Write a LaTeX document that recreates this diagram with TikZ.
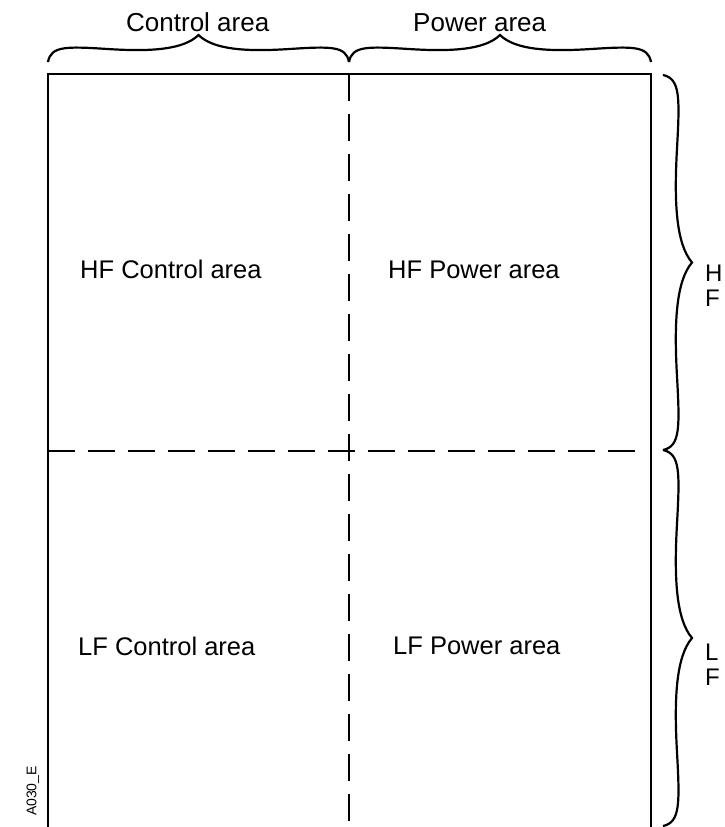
\documentclass[tikz,border=0pt]{standalone}
\usepackage{fontspec}
\setmainfont{Liberation Sans}
\usetikzlibrary{positioning}

\tikzset{
    hbrace/.pic={
        \draw[bracel] (0,0) .. controls (0.01,-0.6) and (0.06,-0.58) .. (0.2,-0.48)
            .. controls (0.34,-0.38) and (0.45,-0.45) .. (0.5,-1)
            .. controls (0.55,-0.45) and (0.66,-0.38) .. (0.8,-0.48)
            .. controls (0.94,-0.58) and (0.99,-0.6) .. (1,0);
    },
    vbrace/.pic={
        \draw[bracel] (0,0) .. controls (0.6,0.01) and (0.58,0.06) .. (0.48,0.2)
            .. controls (0.38,0.34) and (0.45,0.45) .. (1,0.5)
            .. controls (0.45,0.55) and (0.38,0.66) .. (0.48,0.8)
            .. controls (0.58,0.94) and (0.6,0.99) .. (0,1);
    },
}

\begin{document}
\begin{tikzpicture}[
    x=1pt, y=-1pt,
    frame/.style={line width=2.9pt, line join=miter},
    divider/.style={line width=2.8pt, dash pattern=on 27pt off 13pt},
    bracel/.style={line width=2.2pt},
    area/.style={anchor=base west, inner sep=0pt, font=\fontsize{25.5}{30}\selectfont},
    head/.style={anchor=base west, inner sep=0pt, font=\fontsize{26}{30}\selectfont},
    side/.style={anchor=base west, inner sep=0pt, font=\fontsize{24}{28}\selectfont},
    figid/.style={inner sep=0pt, rotate=90, font=\fontsize{14}{16}\selectfont},
]
\useasboundingbox (0,0) rectangle (724,827);

\draw[frame] (48,840) -- (48,74) -- (651,74) -- (651,840);
\draw[divider] (349,74) -- (349,840);
\draw[divider] (48,451) -- (640,451);

\pic[xscale=301, yscale=27] at (48,62) {hbrace};
\pic[xscale=302, yscale=27] at (349,62) {hbrace};
\pic[xscale=29, yscale=375] at (663,75) {vbrace};
\pic[xscale=29, yscale=376] at (663,450) {vbrace};

\node[head] (lblcontrol) at (126,31) {Control area};
\node[head] (lblpower) at (413,31) {Power area};

\node[area] (hfcontrol) at (80,278) {HF Control area};
\node[area] (hfpower) at (388,278) {HF Power area};
\node[area] (lfcontrol) at (78,655) {LF Control area};
\node[area] (lfpower) at (393,654) {LF Power area};

\node[side] (lblh) at (705,281) {H};
\node[side] (lblhf) at (705,306) {F};
\node[side] (lbll) at (705,660) {L};
\node[side] (lbllf) at (705,685) {F};

\node[figid] (figno) at (33,791) {A030\_E};

\end{tikzpicture}
\end{document}
